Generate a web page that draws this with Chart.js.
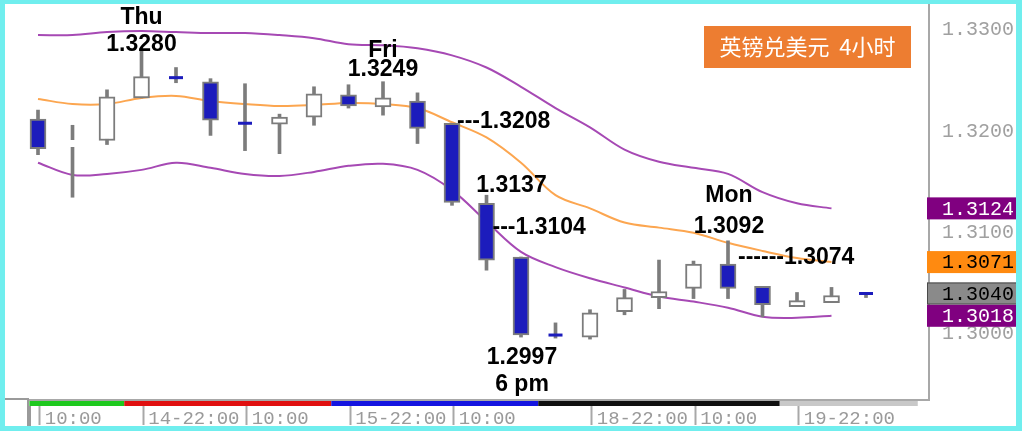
<!DOCTYPE html>
<html><head><meta charset="utf-8">
<script src="https://cdn.jsdelivr.net/npm/chart.js@4.4.0/dist/chart.umd.min.js"></script>
<style>html,body{margin:0;padding:0;background:#fff;overflow:hidden}#wrap{width:1022px;height:431px;position:relative}</style>
</head><body><div id="wrap"><canvas id="c"></canvas></div>
<script>
// ---- data ----
const candleTimes = ['14-10:00','14-14:00','14-18:00','14-22:00','15-02:00','15-06:00','15-10:00','15-14:00','15-18:00','15-22:00','16-02:00','16-06:00','16-10:00','16-14:00','16-18:00','16-22:00','18-22:00','19-02:00','19-06:00','19-10:00','19-14:00','19-18:00','19-22:00','20-02:00','20-06:00'];
const opens  = [1.3212,1.3187,1.3191,1.3233,1.3253,1.3249,1.3208,1.3207,1.3214,1.3236,1.3224,1.3230,1.3208,1.3129,1.3076,1.2999,1.2997,1.3022,1.3036,1.3045,1.3069,1.3047,1.3027,1.3031,1.3040];
const highs  = [1.3221,1.3206,1.3241,1.3280,1.3263,1.3252,1.3247,1.3217,1.3244,1.3246,1.3249,1.3238,1.3208,1.3137,1.3076,1.3011,1.3024,1.3044,1.3073,1.3072,1.3092,1.3047,1.3041,1.3046,1.3040];
const lows   = [1.3177,1.3135,1.3187,1.3233,1.3248,1.3196,1.3181,1.3178,1.3206,1.3223,1.3216,1.3188,1.3127,1.3063,1.2997,1.2996,1.2995,1.3019,1.3025,1.3035,1.3035,1.3017,1.3027,1.3031,1.3036];
const closes = [1.3183,1.3188,1.3234,1.3254,1.3253,1.3211,1.3208,1.3214,1.3237,1.3225,1.3233,1.3203,1.3130,1.3073,1.2999,1.2999,1.3021,1.3036,1.3042,1.3069,1.3045,1.3029,1.3033,1.3038,1.3040];
const upperBand  = [1.3295,1.3295,1.3298,1.3299,1.3298,1.3297,1.3297,1.3295,1.3292,1.3286,1.3285,1.3282,1.3275,1.3263,1.3244,1.3223,1.3204,1.3182,1.3170,1.3164,1.3158,1.3140,1.3129,1.3124];
const middleBand = [1.3232,1.3227,1.3227,1.3233,1.3235,1.3230,1.3227,1.3225,1.3226,1.3228,1.3227,1.3223,1.3209,1.3194,1.3169,1.3137,1.3124,1.3110,1.3105,1.3100,1.3090,1.3082,1.3075,1.3071];
const lowerBand  = [1.3169,1.3157,1.3158,1.3162,1.3169,1.3164,1.3158,1.3156,1.3160,1.3166,1.3168,1.3162,1.3142,1.3111,1.3081,1.3066,1.3055,1.3046,1.3037,1.3032,1.3026,1.3017,1.3016,1.3018];
const yTickValues = [1.30, 1.31, 1.32, 1.33];
const xTickIndex  = [0, 3, 6, 9, 12, 16, 19, 22];
const xTickLabels = ['10:00','14-22:00','10:00','15-22:00','10:00','18-22:00','10:00','19-22:00'];
const dayBounds = [-0.25, 2.5, 8.5, 14.5, 21.5, 25.5];
const titleText = '英镑兑美元  4小时';
const noteTexts  = ['Thu','1.3280','Fri','1.3249','---1.3208','1.3137','---1.3104','1.2997','6 pm','Mon','1.3092','------1.3074'];
const noteIndex  = [3,3,10,10,12,13,13,14,14,20,20,20];
const notePrices = [1.3280,1.3280,1.3249,1.3249,1.3208,1.3137,1.3104,1.2997,1.2997,1.3092,1.3092,1.3074];

// ---- styles ----
const noteStyle = [
  {dx:0,dy:-33,a:'center'},{dx:0,dy:-6,a:'center'},{dx:0,dy:-31,a:'center'},{dx:0,dy:-12,a:'center'},
  {dx:5,dy:-2,a:'left'},{dx:25,dy:-10,a:'center'},{dx:6,dy:-1,a:'left'},{dx:1,dy:21,a:'center'},
  {dx:1,dy:48,a:'center'},{dx:1,dy:-45,a:'center'},{dx:1,dy:-14,a:'center'},{dx:10,dy:-1,a:'left'}];
const dayColors = ['#1ec81e','#e01010','#1414e0','#101010','#c8c8c8'];
const BLUE = '#1c1cbc', GRAY = '#7c7c7c', PURPLE = '#a649b4', ORANGE = '#fca650';

const isDoji = i => Math.abs(opens[i]-closes[i]) < 0.00015;
const idx = opens.map((_, i) => i);
const bodyIdx = idx.filter(i => !isDoji(i));
const dojiIdx = idx.filter(i => isDoji(i));

const tags = [
  {v: upperBand[upperBand.length-1], bg:'#800080', fg:'#ffffff', bd:null},
  {v: middleBand[middleBand.length-1], bg:'#ff8a10', fg:'#000000', bd:null},
  {v: closes[closes.length-1], bg:'#8a8a8a', fg:'#000000', bd:'#4a4a4a'},
  {v: lowerBand[lowerBand.length-1], bg:'#800080', fg:'#ffffff', bd:null}
];

const decor = {
  id: 'decor',
  afterDraw(chart) {
    const ctx = chart.ctx, xs = chart.scales.x, ys = chart.scales.y, ca = chart.chartArea;
    ctx.save();
    // day colour bar
    for (let k = 0; k < dayColors.length; k++) {
      const x0 = xs.getPixelForValue(dayBounds[k]), x1 = xs.getPixelForValue(dayBounds[k+1]);
      ctx.fillStyle = dayColors[k];
      ctx.fillRect(x0, ca.bottom + 1, x1 - x0, 5);
    }
    // small corner box and axis left line
    ctx.strokeStyle = '#9a9a9a'; ctx.lineWidth = 2;
    ctx.beginPath(); ctx.moveTo(5, ca.bottom - 1); ctx.lineTo(ca.left, ca.bottom - 1); ctx.lineTo(ca.left, 426); ctx.stroke();
    ctx.beginPath(); ctx.moveTo(ca.left + 2, ca.bottom + 6); ctx.lineTo(ca.left + 2, 426); ctx.stroke();
    // annotations
    ctx.fillStyle = '#000';
    ctx.font = 'bold 23px "Liberation Sans", Arial, sans-serif';
    ctx.textBaseline = 'middle';
    noteTexts.forEach((t, k) => {
      const s = noteStyle[k];
      ctx.textAlign = s.a;
      ctx.fillText(t, xs.getPixelForValue(noteIndex[k]) + s.dx, ys.getPixelForValue(notePrices[k]) + s.dy);
    });
    // title box
    ctx.fillStyle = '#ed7d31';
    ctx.fillRect(704, 26, 207, 42);
    ctx.fillStyle = '#fff';
    ctx.font = '22px "Noto Sans CJK SC", sans-serif';
    ctx.textAlign = 'center';
    ctx.fillText(titleText, 807.5, 47);
    // price tags on the axis
    ctx.font = '20px "Liberation Mono", monospace';
    ctx.textAlign = 'left';
    tags.forEach(t => {
      const y = ys.getPixelForValue(t.v);
      ctx.fillStyle = t.bg;
      ctx.fillRect(927, y - 11, 90, 22);
      if (t.bd) { ctx.strokeStyle = t.bd; ctx.lineWidth = 1; ctx.strokeRect(927.5, y - 10.5, 89, 21); }
      ctx.fillStyle = t.fg;
      ctx.fillText(t.v.toFixed(4), 942, y + 1);
    });
    // cyan frame
    ctx.fillStyle = '#70eeee';
    ctx.fillRect(0, 0, 1022, 4);
    ctx.fillRect(0, 0, 5, 431);
    ctx.fillRect(1016, 0, 6, 431);
    ctx.fillRect(0, 426, 1022, 5);
    ctx.restore();
  }
};

new Chart(document.getElementById('c'), {
  type: 'bar',
  data: {
    datasets: [
      { type: 'line', data: upperBand.map((v, i) => ({x: i, y: v})), borderColor: PURPLE, borderWidth: 2, pointRadius: 0, tension: 0.35, order: 5 },
      { type: 'line', data: middleBand.map((v, i) => ({x: i, y: v})), borderColor: ORANGE, borderWidth: 2, pointRadius: 0, tension: 0.35, order: 5 },
      { type: 'line', data: lowerBand.map((v, i) => ({x: i, y: v})), borderColor: PURPLE, borderWidth: 2, pointRadius: 0, tension: 0.35, order: 5 },
      { data: idx.map(i => ({x: i, y: [lows[i], highs[i]]})), backgroundColor: GRAY, borderWidth: 0, barThickness: 3, grouped: false, order: 3 },
      { data: bodyIdx.map(i => ({x: i, y: [opens[i], closes[i]]})),
        backgroundColor: bodyIdx.map(i => closes[i] > opens[i] ? '#ffffff' : BLUE),
        borderColor: GRAY, borderWidth: 2, borderSkipped: false, barThickness: 16, grouped: false, order: 2 },
      { type: 'line', showLine: false, data: dojiIdx.map(i => ({x: i, y: closes[i]})),
        pointStyle: 'line', pointRadius: 7, pointBorderWidth: dojiIdx.map(i => closes[i] > opens[i] ? 7 : 3),
        pointBorderColor: dojiIdx.map(i => closes[i] > opens[i] ? '#ffffff' : BLUE), order: 1 }
    ]
  },
  options: {
    responsive: true, maintainAspectRatio: false, animation: false,
    layout: { autoPadding: false, padding: { left: 28, top: 5, right: 6, bottom: 5 } },
    plugins: { legend: { display: false }, tooltip: { enabled: false } },
    scales: {
      x: {
        type: 'linear', offset: false, min: -0.29, max: 25.826,
        afterBuildTicks: s => { s.ticks = xTickIndex.map(v => ({value: v + 0.05})); },
        afterFit: s => { s.height = 26; s.paddingLeft = 0; s.paddingRight = 0; },
        ticks: { autoSkip: false, maxRotation: 0, minRotation: 0, align: 'start', labelOffset: 5, padding: -17,
          color: '#9a9a9a', font: { family: '"Liberation Mono", monospace', size: 19 },
          callback: (v, k) => xTickLabels[k] },
        grid: { offset: false, drawOnChartArea: false, drawTicks: true, tickLength: 25, tickColor: '#a8a8a8', tickWidth: 2 },
        border: { display: true, color: '#a8a8a8', width: 2 }
      },
      y: {
        position: 'right', min: 1.29349, max: 1.33247, beginAtZero: false,
        afterBuildTicks: s => { s.ticks = yTickValues.map(v => ({value: v})); },
        afterFit: s => { s.width = 87; s.paddingTop = 0; s.paddingBottom = 0; },
        ticks: { padding: 13, color: '#a0a0a0', font: { family: '"Liberation Mono", monospace', size: 20 },
          callback: v => Number(v).toFixed(4) },
        grid: { drawOnChartArea: false, drawTicks: false },
        border: { display: true, color: '#a8a8a8', width: 2 }
      }
    }
  },
  plugins: [decor]
});
</script></body></html>
